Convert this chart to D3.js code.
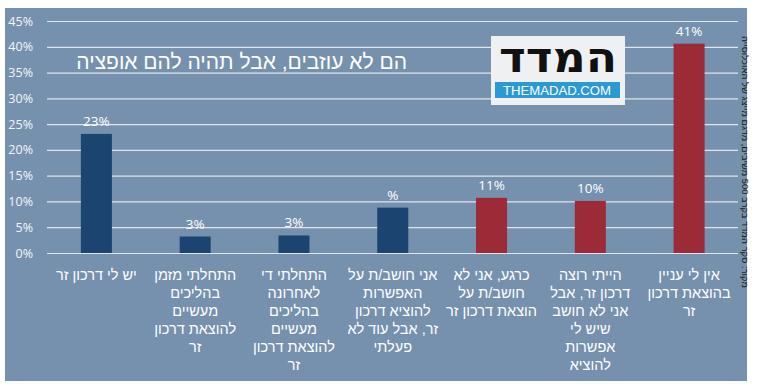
<!DOCTYPE html>
<html>
<head>
<meta charset="utf-8">
<script src="https://cdn.jsdelivr.net/npm/d3@7"></script>
<style>
  body { margin: 0; background: #fff; }
  svg { display: block; font-family: "Liberation Sans", Arial, sans-serif; }
</style>
</head>
<body>
<div id="chart"></div>
<script>
// data
const categories = [
  ["יש לי דרכון זר"],
  ["התחלתי מזמן", "בהליכים", "מעשיים", "להוצאת דרכון", "זר"],
  ["התחלתי די", "לאחרונה", "בהליכים", "מעשיים", "להוצאת דרכון", "זר"],
  ["אני חושב/ת על", "האפשרות", "להוציא דרכון", "זר, אבל עוד לא", "פעלתי"],
  ["כרגע, אני לא", "חושב/ת על", "הוצאת דרכון זר"],
  ["הייתי רוצה", "דרכון זר, אבל", "אני לא חושב", "שיש לי", "אפשרות", "להוציא"],
  ["אין לי עניין", "בהוצאת דרכון", "זר"]
];
const values = [23.1, 3.2, 3.4, 8.8, 10.7, 10.1, 40.6];
const valueLabels = ["23%", "3%", "3%", "%", "11%", "10%", "41%"];
const groups = ["blue", "blue", "blue", "blue", "red", "red", "red"];
const yTicks = [0, 5, 10, 15, 20, 25, 30, 35, 40, 45];
const title = "הם לא עוזבים, אבל תהיה להם אופציה";
const sourceNote = "מקור: סקר המדד בקרב 500 משיבים, מדגם מייצג של האוכלוסייה";

const width = 758, height = 389;
const margin = { top: 21, right: 20, bottom: 136, left: 47 };

const svg = d3.select("#chart")
  .append("svg")
  .attr("width", width)
  .attr("height", height);

// panel background
svg.append("rect")
  .attr("x", 5).attr("y", 8)
  .attr("width", 742).attr("height", 373)
  .attr("fill", "#7691ad");

const x = d3.scaleBand()
  .domain(d3.range(categories.length))
  .range([margin.left, 738.5])
  .padding(0);

const y = d3.scaleLinear()
  .domain([0, 45])
  .range([253, margin.top]);

// gridlines + y labels
const yAxis = svg.append("g")
  .attr("transform", `translate(${margin.left},0)`)
  .call(d3.axisLeft(y).tickValues(yTicks).tickSize(-(738 - margin.left)).tickFormat(d => d + "%"));
yAxis.select(".domain").remove();
yAxis.selectAll(".tick line").attr("stroke", "#dfe5ec").attr("stroke-width", 1.2);
yAxis.selectAll(".tick text")
  .attr("x", -14)
  .attr("fill", "#f4f6f8")
  .attr("font-size", 12.5)
  .attr("font-family", "'Open Sans', sans-serif");

// bars
const barW = 31;
const colors = { blue: "#1b4570", red: "#9c2a37" };
svg.append("g").selectAll("rect")
  .data(values)
  .join("rect")
  .attr("x", (d, i) => x(i) + x.bandwidth() / 2 - barW / 2)
  .attr("y", d => y(d))
  .attr("width", barW)
  .attr("height", d => y(0) - y(d))
  .attr("fill", (d, i) => colors[groups[i]]);

// value labels
svg.append("g").selectAll("text")
  .data(values)
  .join("text")
  .attr("x", (d, i) => x(i) + x.bandwidth() / 2)
  .attr("y", d => y(d) - 8)
  .attr("text-anchor", "middle")
  .attr("fill", "#ffffff")
  .attr("font-size", 13.5)
  .attr("font-family", "'Open Sans', sans-serif")
  .text((d, i) => valueLabels[i]);

// category labels
const cat = svg.append("g").selectAll("text")
  .data(categories)
  .join("text")
  .attr("text-anchor", "middle")
  .attr("direction", "rtl")
  .attr("fill", "#ffffff")
  .attr("font-size", 14.5);
cat.selectAll("tspan")
  .data((d, i) => d.map(line => ({ line, i })))
  .join("tspan")
  .attr("x", d => x(d.i) + x.bandwidth() / 2)
  .attr("y", (d, j) => 280 + j * 18)
  .text(d => d.line);

// title
svg.append("text")
  .attr("x", 407).attr("y", 69)
  .attr("text-anchor", "start")
  .attr("direction", "rtl")
  .attr("fill", "#ffffff")
  .attr("font-size", 21)
  .text(title);

// logo
const logo = svg.append("g");
logo.append("rect")
  .attr("x", 491).attr("y", 36).attr("width", 134).attr("height", 69)
  .attr("fill", "#eef0f2");
logo.append("text")
  .attr("transform", "translate(558,72) scale(1,1.2)")
  .attr("text-anchor", "middle")
  .attr("direction", "rtl")
  .attr("font-size", 35)
  .attr("font-weight", "bold")
  .attr("font-family", "'DejaVu Sans', sans-serif")
  .attr("fill", "#111")
  .attr("textLength", 118)
  .attr("lengthAdjust", "spacingAndGlyphs")
  .text("המדד");
logo.append("rect")
  .attr("x", 495).attr("y", 82).attr("width", 125).attr("height", 16)
  .attr("fill", "#2b9ad3");
logo.append("text")
  .attr("x", 557).attr("y", 95)
  .attr("text-anchor", "middle")
  .attr("font-size", 12.5)
  .attr("fill", "#ffffff")
  .attr("textLength", 108)
  .attr("lengthAdjust", "spacingAndGlyphs")
  .text("THEMADAD.COM");

// source note, vertical at right
svg.append("text")
  .attr("transform", "translate(742,162) rotate(90)")
  .attr("text-anchor", "middle")
  .attr("direction", "rtl")
  .attr("font-size", 8.5)
  .attr("fill", "#1a1a1a")
  .attr("textLength", 252)
  .attr("lengthAdjust", "spacingAndGlyphs")
  .text(sourceNote);
</script>
</body>
</html>
